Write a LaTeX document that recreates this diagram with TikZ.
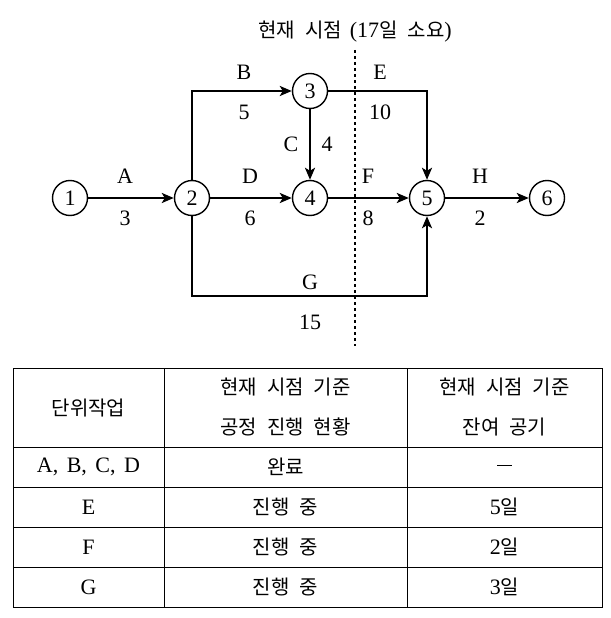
\documentclass[tikz,border=0pt]{standalone}
\usepackage{fontspec}
\setmainfont{Liberation Serif}
\newfontfamily\krfam{Noto Sans CJK KR}
\newcommand\kr{\krfam\fontsize{20}{24}\selectfont}
\usetikzlibrary{arrows.meta}
\newcommand\ksp{\hspace{10pt}}
\begin{document}
\begin{tikzpicture}[x=1pt,y=-1pt,
  every node/.style={font=\fontsize{22}{26}\selectfont},
  ev/.style={circle,draw,line width=1.4pt,minimum size=35pt,inner sep=0pt},
  arr/.style={line width=2.2pt,-{Stealth[length=12pt,width=10pt,inset=3pt]}},
  lbl/.style={inner sep=0pt},
  grid/.style={line width=0.9pt},
  nowline/.style={line width=2pt,dash pattern=on 3pt off 3pt}]
\useasboundingbox (0,0) rectangle (610,618);
% title
\node[lbl] (title) at (355,32) {{\kr 현재\ksp 시점}\hspace{8pt}({17}{\kr 일\ksp 소요})};
% events
\node[ev] (n1) at (70,198) {1};
\node[ev] (n2) at (192,198) {2};
\node[ev] (n3) at (310,91) {3};
\node[ev] (n4) at (310,198) {4};
\node[ev] (n5) at (427,198) {5};
\node[ev] (n6) at (547,198) {6};
\coordinate (gc) at (310,296);
% activities
\draw[arr] (n1) -- (n2);
\draw[arr] (n2) |- (n3);
\draw[arr] (n3) -- (n4);
\draw[arr] (n2) -- (n4);
\draw[arr] (n3) -| (n5);
\draw[arr] (n4) -- (n5);
\draw[arr] (n5) -- (n6);
\draw[arr] (n2) |- (gc) -| (n5);
% labels
\node[lbl] (lA) at (125,176) {A};
\node[lbl] (dA) at (125,218) {3};
\node[lbl] (lB) at (244,72) {B};
\node[lbl] (dB) at (244,112) {5};
\node[lbl] (lE) at (380,72) {E};
\node[lbl] (dE) at (380,112) {10};
\node[lbl] (lC) at (291,144) {C};
\node[lbl] (dC) at (327,144) {4};
\node[lbl] (lD) at (250,176) {D};
\node[lbl] (dD) at (250,218) {6};
\node[lbl] (lF) at (368,176) {F};
\node[lbl] (dF) at (368,218) {8};
\node[lbl] (lH) at (480,176) {H};
\node[lbl] (dH) at (480,218) {2};
\node[lbl] (lG) at (310,282) {G};
\node[lbl] (dG) at (310,322) {15};
% now line
\coordinate (dtop) at (355,50);
\coordinate (dbot) at (355,346);
\draw[nowline] (dtop) -- (dbot);
% table
\draw[grid] (13,368) rectangle (602,607);
\foreach \yy in {447,487,527,567} \draw[grid] (13,\yy) -- (602,\yy);
\foreach \xx in {164,407} \draw[grid] (\xx,368) -- (\xx,607);
\node[lbl] (h1) at (88.5,408) {\kr 단위작업};
\node[lbl] (h2a) at (285.5,387) {\kr 현재\ksp 시점\ksp 기준};
\node[lbl] (h2b) at (285.5,427) {\kr 공정\ksp 진행\ksp 현황};
\node[lbl] (h3a) at (504.5,387) {\kr 현재\ksp 시점\ksp 기준};
\node[lbl] (h3b) at (504.5,427) {\kr 잔여\ksp 공기};
\node[lbl] (r1a) at (88.5,467) {A,\hspace{3pt} B,\hspace{3pt} C,\hspace{3pt} D};
\node[lbl] (r1b) at (285.5,467) {\kr 완료};
\node[lbl] (r1c) at (504.5,465) {\rule{15pt}{0.8pt}};
\node[lbl] (r2a) at (88.5,507) {E};
\node[lbl] (r2b) at (285.5,507) {\kr 진행\ksp 중};
\node[lbl] (r2c) at (504.5,507) {5{\kr 일}};
\node[lbl] (r3a) at (88.5,547) {F};
\node[lbl] (r3b) at (285.5,547) {\kr 진행\ksp 중};
\node[lbl] (r3c) at (504.5,547) {2{\kr 일}};
\node[lbl] (r4a) at (88.5,587) {G};
\node[lbl] (r4b) at (285.5,587) {\kr 진행\ksp 중};
\node[lbl] (r4c) at (504.5,587) {3{\kr 일}};
\end{tikzpicture}
\end{document}
